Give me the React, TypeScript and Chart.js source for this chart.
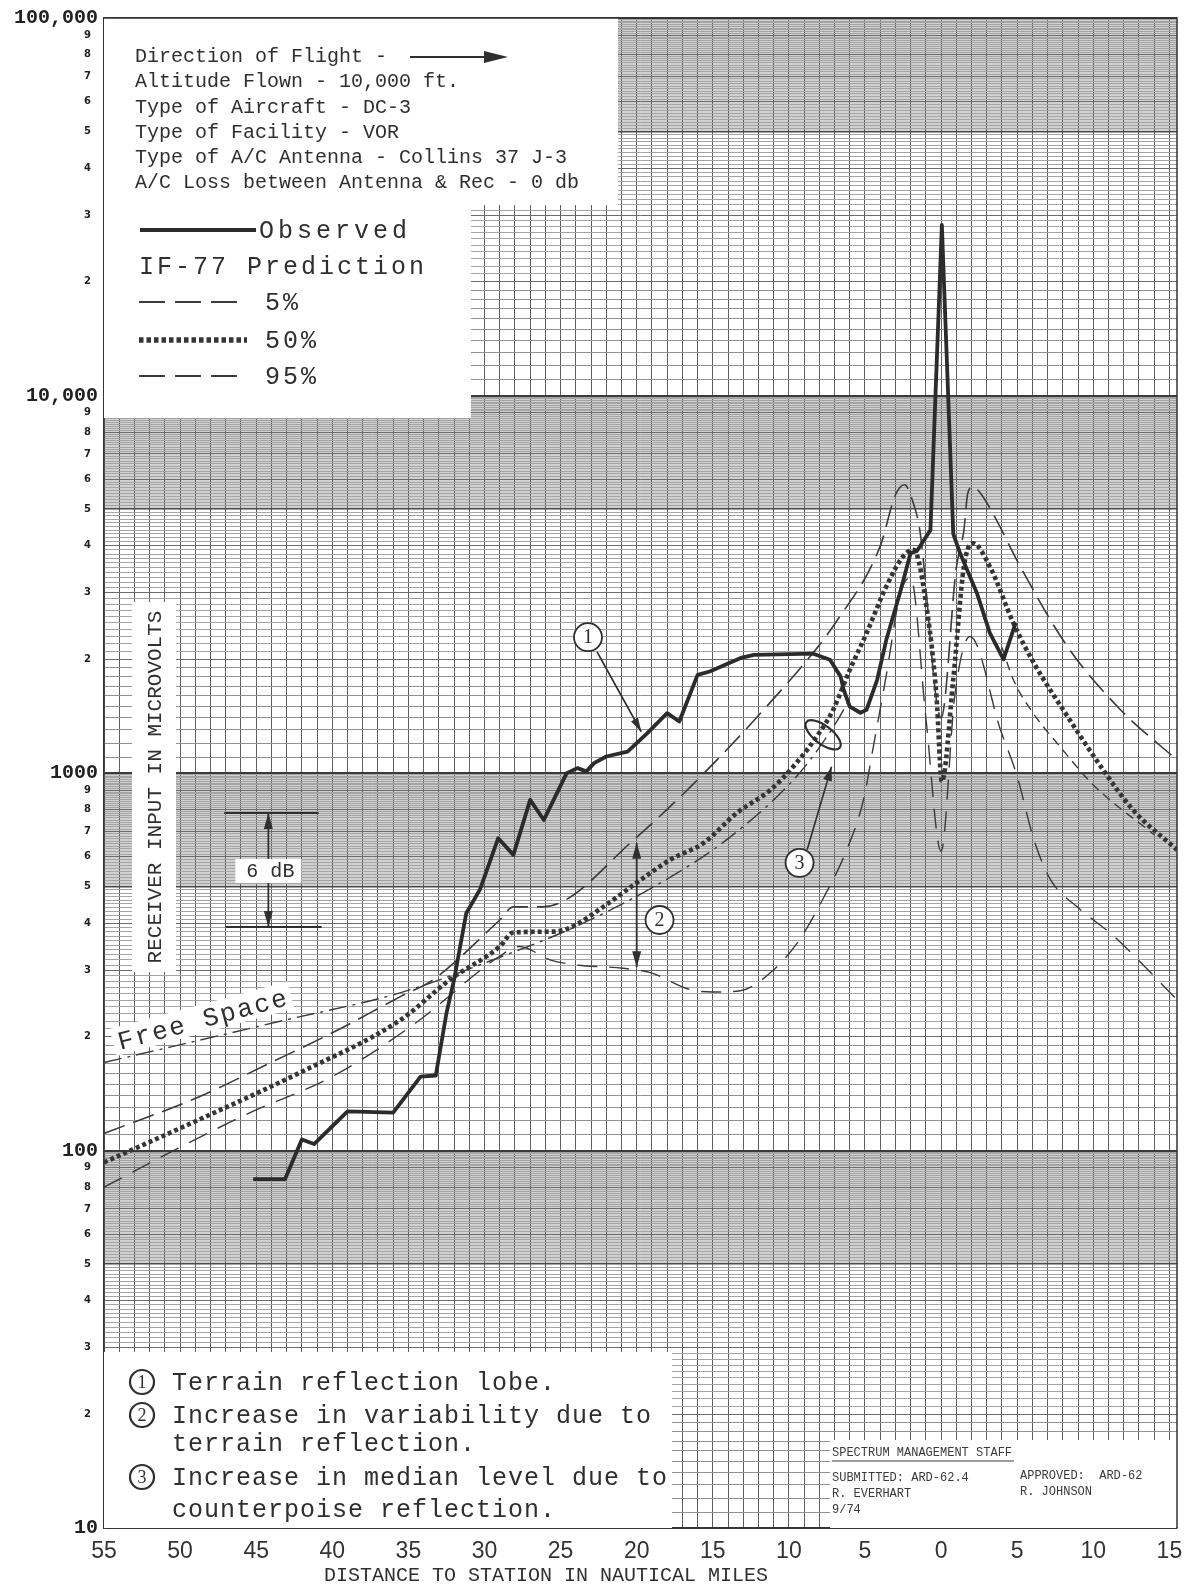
import React, { useEffect, useRef } from 'react';
import { Chart, registerables } from 'chart.js';

Chart.register(...registerables);

// ---------------- data (distance in NM: negative = approaching station) ----------------
const observedDist = [-45.2, -43.1, -42.0, -41.2, -39.0, -36.0, -34.2, -33.2, -32.5, -32.0, -31.6, -31.2, -30.3, -29.1, -28.1, -27.0, -26.1, -24.6, -23.9, -23.3, -22.8, -22.0, -20.6, -20.0, -19.3, -18.0, -17.2, -16.0, -15.2, -13.2, -12.3, -8.4, -7.3, -6.6, -6.4, -6.0, -5.3, -4.9, -4.2, -3.6, -2.7, -2.0, -1.6, -0.7, 0.05, 0.8, 1.25, 2.35, 3.2, 4.1, 4.9];
const observedUv = [84, 84, 107, 104, 127, 126, 157, 158, 231, 283, 347, 425, 491, 672, 607, 849, 751, 999, 1030, 1010, 1062, 1106, 1139, 1200, 1276, 1441, 1369, 1820, 1857, 2015, 2056, 2070, 1995, 1800, 1660, 1500, 1444, 1470, 1766, 2253, 3002, 3831, 3868, 4400, 28300, 4300, 3820, 3000, 2350, 2000, 2500];

const pred5Dist = [-55, -48.7, -44.3, -40.0, -35.5, -33.4, -29.0, -28.1, -26.2, -20.2, -10.1, -6.8, -4.0, -3.0, -2.4, -1.9, -1.4, 0.0, 1.0, 1.5, 1.75, 2.1, 2.6, 3.4, 5.2, 8.3, 11.8, 15.5];
const pred5Uv = [111, 139, 169, 205, 256, 283, 408, 442, 442, 665, 1730, 2547, 3990, 5450, 5800, 5300, 4400, 1400, 3500, 4400, 5500, 5740, 5500, 4875, 3525, 2163, 1469, 1082];

const pred50Dist = [-55, -48.7, -42.1, -35.5, -32.3, -29.0, -28.1, -25.5, -24.4, -22.2, -20.0, -17.8, -15.6, -13.4, -11.2, -9.5, -8.0, -7.1, -6.0, -4.9, -3.6, -2.5, -1.8, -0.9, -0.3, 0.05, 0.8, 1.5, 2.1, 3.2, 4.75, 6.1, 8.3, 10.5, 12.6, 15.5];
const pred50Uv = [93, 121, 161, 222, 283, 347, 378, 380, 389, 442, 512, 589, 653, 785, 903, 1064, 1278, 1468, 1875, 2345, 3120, 3745, 3900, 2652, 1594, 950, 1770, 3525, 4062, 3525, 2495, 1955, 1413, 1040, 799, 626];

const pred95Dist = [-55, -49.8, -45.4, -40.0, -34.5, -29.0, -27.7, -25.7, -23.9, -20.9, -19.1, -16.5, -15.0, -13.2, -11.0, -9.3, -7.8, -6.2, -5.1, -4.45, -3.6, -2.7, -2.0, -1.0, 0.0, 0.9, 1.9, 3.9, 5.0, 6.1, 7.2, 9.0, 11.3, 15.5];
const pred95Uv = [80, 103, 126, 157, 218, 327, 347, 320, 310, 304, 296, 267, 263, 265, 301, 362, 461, 626, 849, 1175, 1817, 2960, 3300, 1400, 620, 1600, 2300, 1302, 979, 665, 521, 440, 371, 251];

const freeSpaceLeftDist = [-55, -43, -35.5, -29, -24, -18.5, -14, -9.3, -7.0, -6.0];
const freeSpaceLeftUv = [171, 222, 262, 325, 392, 510, 670, 1000, 1340, 1570];
const freeSpaceRightDist = [4.0, 4.75, 6.0, 7.8, 10.0, 14.0];
const freeSpaceRightUv = [2150, 1766, 1450, 1176, 930, 686];

// ---------------- axes / ticks ----------------
const xLabelValues = [-55, -50, -45, -40, -35, -30, -25, -20, -15, -10, -5, 0, 5, 10, 15];
const xLabelText = ['55', '50', '45', '40', '35', '30', '25', '20', '15', '10', '5', '0', '5', '10', '15'];
const decadeBases = [10, 100, 1000, 10000];
const yMajorValues = [10, 100, 1000, 10000, 100000];
const yMajorLabels = ['10', '100', '1000', '10,000', '100,000'];

const xGridValues: number[] = [];
for (let d = -55; d <= 15; d++) xGridValues.push(d);
const yGridValues: number[] = [];
for (const b of decadeBases) for (let m = 10; m < 100; m++) yGridValues.push((b * m) / 10);
yGridValues.push(100000);

const infoLines = [
  'Direction of Flight - ',
  'Altitude Flown - 10,000 ft.',
  'Type of Aircraft - DC-3',
  'Type of Facility - VOR',
  'Type of A/C Antenna - Collins 37 J-3',
  'A/C Loss between Antenna & Rec - 0 db',
];
const noteLines = [
  { mark: '1', text: 'Terrain reflection lobe.' },
  { mark: '2', text: 'Increase in variability due to' },
  { mark: '', text: 'terrain reflection.' },
  { mark: '3', text: 'Increase in median level due to' },
  { mark: '', text: 'counterpoise reflection.' },
];

// ---------------- styles ----------------
const INK = '#2f2f2f';
const MONO = '"Liberation Mono", "DejaVu Sans Mono", monospace';
const OBS_STYLE = { color: '#2b2b2b', width: 3.8, dash: [] as number[] };
const P5_STYLE = { color: '#3a3a3a', width: 1.6, dash: [22, 9] };
const P50_STYLE = { color: '#353535', width: 4.6, dash: [4, 3] };
const P95_STYLE = { color: '#3a3a3a', width: 1.4, dash: [20, 12] };
const FS_STYLE = { color: '#3a3a3a', width: 1.4, dash: [18, 6, 3, 6] };

function mantissa(v: number) {
  const e = Math.floor(Math.log10(v) + 1e-9);
  return Math.round((v / Math.pow(10, e)) * 10) / 10;
}

function pts(xs: number[], ys: number[]) {
  return xs.map((x, i) => ({ x, y: ys[i] }));
}

function spaced(ctx: CanvasRenderingContext2D, text: string, x: number, y: number, spacing: number) {
  let cx = x;
  for (const ch of text) {
    ctx.fillText(ch, cx, y);
    cx += ctx.measureText(ch).width + spacing;
  }
  return cx;
}
function spacedWidth(ctx: CanvasRenderingContext2D, text: string, spacing: number) {
  let w = 0;
  for (const ch of text) w += ctx.measureText(ch).width + spacing;
  return w - spacing;
}

function circled(ctx: CanvasRenderingContext2D, cx: number, cy: number, r: number, label: string, size: number, lw = 1.8) {
  ctx.save();
  ctx.beginPath();
  ctx.arc(cx, cy, r, 0, Math.PI * 2);
  ctx.fillStyle = '#fff';
  ctx.fill();
  ctx.lineWidth = lw;
  ctx.strokeStyle = INK;
  ctx.stroke();
  ctx.fillStyle = INK;
  ctx.font = `${size}px "Liberation Serif", serif`;
  ctx.textAlign = 'center';
  ctx.textBaseline = 'middle';
  ctx.fillText(label, cx, cy + 1);
  ctx.restore();
}

function arrowHead(ctx: CanvasRenderingContext2D, x1: number, y1: number, x2: number, y2: number, len: number, half: number) {
  const a = Math.atan2(y2 - y1, x2 - x1);
  const bx = x2 - len * Math.cos(a);
  const by = y2 - len * Math.sin(a);
  ctx.beginPath();
  ctx.moveTo(x2, y2);
  ctx.lineTo(bx + half * Math.sin(a), by - half * Math.cos(a));
  ctx.lineTo(bx - half * Math.sin(a), by + half * Math.cos(a));
  ctx.closePath();
  ctx.fill();
}

function strokeSample(ctx: CanvasRenderingContext2D, style: { color: string; width: number; dash: number[] }, x1: number, x2: number, y: number) {
  ctx.save();
  ctx.strokeStyle = style.color;
  ctx.lineWidth = style.width;
  ctx.setLineDash(style.dash);
  ctx.lineCap = 'butt';
  ctx.beginPath();
  ctx.moveTo(x1, y);
  ctx.lineTo(x2, y);
  ctx.stroke();
  ctx.restore();
}

const paperPlugin = {
  id: 'paper',
  beforeDraw(chart: any) {
    const { ctx, chartArea: a } = chart;
    const y = chart.scales.y;
    ctx.save();
    ctx.fillStyle = '#ffffff';
    ctx.fillRect(0, 0, chart.width, chart.height);
    ctx.fillStyle = '#d0d0d0';
    for (const b of decadeBases) {
      const t = y.getPixelForValue(b * 10);
      const bt = y.getPixelForValue(b * 5);
      ctx.fillRect(a.left, t, a.right - a.left, bt - t);
    }
    ctx.restore();
  },
  beforeDatasetsDraw(chart: any) {
    const { ctx } = chart;
    ctx.save();
    ctx.fillStyle = '#ffffff';
    ctx.fillRect(104, 18, 618 - 104, 205 - 18);
    ctx.fillRect(104, 205, 471 - 104, 418 - 205);
    ctx.fillRect(104, 1352, 672 - 104, 1528 - 1352);
    ctx.fillRect(830, 1440, 1177 - 830, 1528 - 1440);
    ctx.fillRect(132, 602, 44, 370);

    // info lines
    ctx.fillStyle = INK;
    ctx.textBaseline = 'middle';
    ctx.textAlign = 'left';
    ctx.font = `20px ${MONO}`;
    infoLines.forEach((t, i) => ctx.fillText(t, 135, 57 + i * 25.2));
    // direction arrow
    ctx.strokeStyle = INK;
    ctx.lineWidth = 2;
    ctx.beginPath();
    ctx.moveTo(410, 57);
    ctx.lineTo(490, 57);
    ctx.stroke();
    arrowHead(ctx, 410, 57, 508, 57, 24, 6);

    // legend
    strokeSample(ctx, OBS_STYLE, 140, 256, 230);
    ctx.font = `25px ${MONO}`;
    spaced(ctx, 'Observed', 259, 231, 4);
    spaced(ctx, 'IF-77 Prediction', 139, 267, 3);
    strokeSample(ctx, { ...P5_STYLE, width: 1.8, dash: [26, 10] }, 139, 247, 302);
    spaced(ctx, '5%', 265, 303, 3);
    strokeSample(ctx, { ...P50_STYLE, width: 5.5, dash: [4.5, 3] }, 139, 247, 340);
    spaced(ctx, '50%', 265, 341, 3);
    strokeSample(ctx, { ...P95_STYLE, width: 1.8, dash: [26, 10] }, 139, 247, 376);
    spaced(ctx, '95%', 265, 377, 3);

    // notes
    const noteY = [1382, 1415, 1443, 1477, 1509];
    ctx.font = `25px ${MONO}`;
    noteLines.forEach((n, i) => {
      ctx.fillStyle = INK;
      spaced(ctx, n.text, 172, noteY[i] + 1, 1);
      if (n.mark) circled(ctx, 142, noteY[i], 12, n.mark, 18, 2.2);
    });

    // stamp
    ctx.fillStyle = '#3a3a3a';
    ctx.font = `12px ${MONO}`;
    ctx.textAlign = 'left';
    ctx.fillText('SPECTRUM MANAGEMENT STAFF', 832, 1453);
    ctx.strokeStyle = '#3a3a3a';
    ctx.lineWidth = 1;
    ctx.beginPath();
    ctx.moveTo(832, 1461);
    ctx.lineTo(1014, 1461);
    ctx.stroke();
    ctx.fillText('SUBMITTED: ARD-62.4', 832, 1478);
    ctx.fillText('R. EVERHART', 832, 1494);
    ctx.fillText('9/74', 832, 1510);
    ctx.fillText('APPROVED:  ARD-62', 1020, 1476);
    ctx.fillText('R. JOHNSON', 1020, 1492);

    // y title
    ctx.save();
    ctx.translate(154, 787);
    ctx.rotate(-Math.PI / 2);
    ctx.textAlign = 'center';
    ctx.fillStyle = INK;
    ctx.font = `21px ${MONO}`;
    ctx.fillText('RECEIVER INPUT IN MICROVOLTS', 0, 1);
    ctx.restore();
    ctx.restore();
  },
  afterDatasetsDraw(chart: any) {
    const { ctx } = chart;
    const xs = chart.scales.x;
    const ys = chart.scales.y;
    const px = (d: number) => xs.getPixelForValue(d);
    const py = (v: number) => ys.getPixelForValue(v);
    ctx.save();
    ctx.strokeStyle = INK;
    ctx.fillStyle = INK;
    ctx.lineWidth = 1.6;

    // (1) terrain reflection lobe
    ctx.beginPath();
    ctx.moveTo(px(-22.6), py(2092));
    ctx.lineTo(px(-19.7), py(1286));
    ctx.stroke();
    arrowHead(ctx, px(-22.6), py(2092), px(-19.7), py(1286), 14, 4);
    circled(ctx, px(-23.2), py(2290), 14, '1', 20);

    // (2) variability double arrow
    const ax = px(-20.0);
    ctx.lineWidth = 1.8;
    ctx.beginPath();
    ctx.moveTo(ax, py(653));
    ctx.lineTo(ax, py(306));
    ctx.stroke();
    arrowHead(ctx, ax, py(430), ax, py(653), 16, 4.5);
    arrowHead(ctx, ax, py(430), ax, py(306), 16, 4.5);
    circled(ctx, px(-18.5), py(408), 14, '2', 20);

    // (3) counterpoise
    ctx.lineWidth = 1.6;
    ctx.beginPath();
    ctx.moveTo(px(-8.8), py(626));
    ctx.lineTo(px(-7.2), py(1039));
    ctx.stroke();
    arrowHead(ctx, px(-8.8), py(626), px(-7.2), py(1039), 14, 4.5);
    ctx.lineWidth = 2.2;
    ctx.beginPath();
    ctx.ellipse(px(-7.75), py(1262), 21, 9, 0.65, 0, Math.PI * 2);
    ctx.stroke();
    circled(ctx, px(-9.3), py(578), 14, '3', 20);

    // 6 dB bracket
    ctx.lineWidth = 2;
    const l1 = py(783);
    const l2 = py(391);
    ctx.beginPath();
    ctx.moveTo(px(-47.1), l1);
    ctx.lineTo(px(-40.9), l1);
    ctx.moveTo(px(-47.0), l2);
    ctx.lineTo(px(-40.7), l2);
    ctx.stroke();
    const bx = px(-44.2);
    const ly = py(550);
    ctx.lineWidth = 1.8;
    ctx.beginPath();
    ctx.moveTo(bx, ly - 12);
    ctx.lineTo(bx, l1);
    ctx.moveTo(bx, ly + 12);
    ctx.lineTo(bx, l2);
    ctx.stroke();
    arrowHead(ctx, bx, ly, bx, l1, 16, 4.5);
    arrowHead(ctx, bx, ly, bx, l2, 16, 4.5);
    ctx.fillStyle = '#fff';
    ctx.fillRect(bx - 33, ly - 12, 66, 24);
    ctx.fillStyle = INK;
    ctx.font = `20px ${MONO}`;
    ctx.textAlign = 'center';
    ctx.textBaseline = 'middle';
    ctx.fillText('6 dB', bx + 2, ly + 1);

    // Free Space label
    ctx.save();
    ctx.translate(px(-48.55), py(222));
    ctx.rotate((-15 * Math.PI) / 180);
    ctx.font = `26px ${MONO}`;
    ctx.textAlign = 'left';
    const w = spacedWidth(ctx, 'Free Space', 2);
    ctx.fillStyle = '#fff';
    ctx.fillRect(-w / 2 - 5, -15, w + 10, 28);
    ctx.fillStyle = INK;
    spaced(ctx, 'Free Space', -w / 2, 1, 2);
    ctx.restore();
    ctx.restore();
  },
  afterDraw(chart: any) {
    const { ctx, chartArea: a } = chart;
    ctx.save();
    ctx.strokeStyle = '#333';
    ctx.lineWidth = 1.5;
    ctx.beginPath();
    ctx.moveTo(a.left, a.top);
    ctx.lineTo(a.right, a.top);
    ctx.lineTo(a.right, a.bottom);
    ctx.stroke();
    ctx.fillStyle = INK;
    ctx.font = `20px ${MONO}`;
    ctx.textAlign = 'center';
    ctx.textBaseline = 'middle';
    ctx.fillText('DISTANCE TO STATION IN NAUTICAL MILES', 546, 1576);
    ctx.restore();
  },
};

export default function App() {
  const ref = useRef<HTMLCanvasElement>(null);
  useEffect(() => {
    const canvas = ref.current;
    if (!canvas) return;
    const ds = (label: string, xs: number[], ys: number[], st: any, smooth: boolean) => ({
      label,
      data: pts(xs, ys),
      showLine: true,
      borderColor: st.color,
      backgroundColor: st.color,
      borderWidth: st.width,
      borderDash: st.dash,
      borderCapStyle: 'butt',
      borderJoinStyle: 'round',
      pointRadius: 0,
      pointHoverRadius: 0,
      fill: false,
      cubicInterpolationMode: smooth ? 'monotone' : 'default',
      tension: 0,
    });
    const chart = new Chart(canvas, {
      type: 'scatter',
      data: {
        datasets: [
          ds('Observed', observedDist, observedUv, OBS_STYLE, false),
          ds('5%', pred5Dist, pred5Uv, P5_STYLE, true),
          ds('50%', pred50Dist, pred50Uv, P50_STYLE, true),
          ds('95%', pred95Dist, pred95Uv, P95_STYLE, true),
          ds('Free Space', freeSpaceLeftDist, freeSpaceLeftUv, FS_STYLE, true),
          ds('Free Space (after station)', freeSpaceRightDist, freeSpaceRightUv, { ...FS_STYLE, dash: [9, 6] }, true),
        ] as any,
      },
      options: {
        responsive: false,
        animation: false,
        devicePixelRatio: 1,
        events: [],
        layout: { padding: { left: 0, top: 18, right: 16, bottom: 0 } },
        plugins: { legend: { display: false }, tooltip: { enabled: false } },
        scales: {
          x: {
            type: 'linear',
            min: -55,
            max: 15.5,
            afterBuildTicks: (s: any) => {
              s.ticks = xGridValues.map((v) => ({ value: v }));
            },
            afterFit: (s: any) => {
              s.height = 59;
            },
            grid: { color: '#5f5f5f', lineWidth: 1, drawTicks: false },
            border: { display: true, color: '#333', width: 1.5 },
            ticks: {
              autoSkip: false,
              maxRotation: 0,
              minRotation: 0,
              padding: 10,
              color: '#333',
              font: { family: '"Liberation Sans", sans-serif', size: 23 },
              callback: (v: any) => {
                const i = xLabelValues.indexOf(Number(v));
                return i >= 0 ? xLabelText[i] : '';
              },
            },
          },
          y: {
            type: 'logarithmic',
            min: 10,
            max: 100000,
            afterBuildTicks: (s: any) => {
              s.ticks = yGridValues.map((v) => ({ value: v }));
            },
            afterFit: (s: any) => {
              s.width = 104;
            },
            grid: {
              drawTicks: false,
              color: (c: any) => {
                const v = c.tick ? c.tick.value : 10;
                const m = mantissa(v);
                if (m === 1) return '#3a3a3a';
                if (m === 5) return '#4a4a4a';
                if (Number.isInteger(m)) return '#6c6c6c';
                if (m < 2) return '#909090';
                return '#a4a4a4';
              },
              lineWidth: (c: any) => {
                const v = c.tick ? c.tick.value : 10;
                const m = mantissa(v);
                if (m === 1) return 2;
                if (m === 5) return 1.6;
                return 1;
              },
            },
            border: { display: true, color: '#333', width: 1.5 },
            ticks: {
              autoSkip: false,
              padding: 6,
              color: '#222',
              font: (c: any) => {
                const v = c.tick ? c.tick.value : 10;
                return mantissa(v) === 1
                  ? { family: MONO, size: 20, weight: 'bold' }
                  : { family: '"DejaVu Sans", sans-serif', size: 10, weight: 'bold' };
              },
              callback: (v: any) => {
                const val = Number(v);
                const i = yMajorValues.indexOf(val);
                if (i >= 0) return yMajorLabels[i];
                const m = mantissa(val);
                if (Number.isInteger(m) && m >= 2) return String(m) + '  ';
                return '';
              },
            },
          },
        },
      } as any,
      plugins: [paperPlugin as any],
    });
    return () => chart.destroy();
  }, []);
  return (
    <div style={{ position: 'fixed', left: 0, top: 0, width: 1193, height: 1587, background: '#fff' }}>
      <canvas ref={ref} width={1193} height={1587} style={{ display: 'block', width: 1193, height: 1587 }} />
    </div>
  );
}
